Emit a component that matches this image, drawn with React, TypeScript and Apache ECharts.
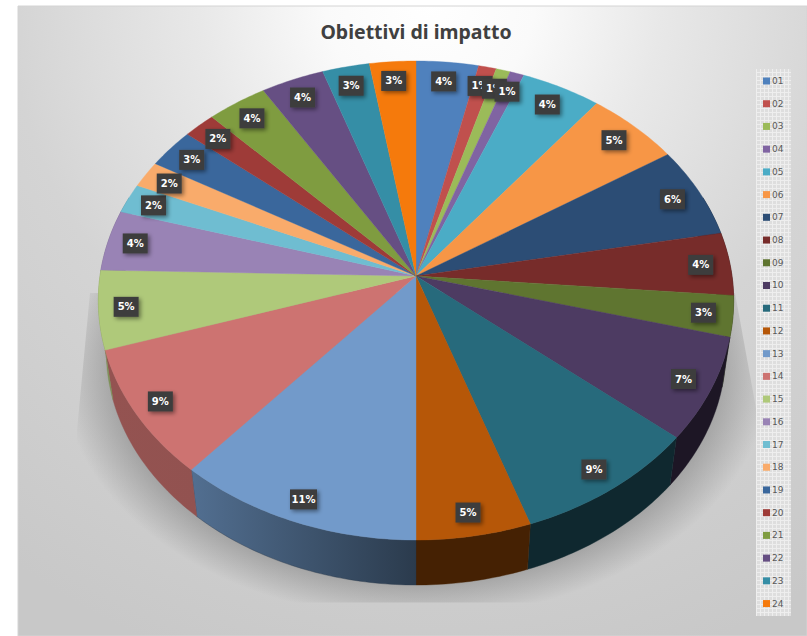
import React, { useEffect, useRef } from "react";
import * as echarts from "echarts";

const titleText = "Obiettivi di impatto";
const categories = ["01","02","03","04","05","06","07","08","09","10","11","12","13","14","15","16","17","18","19","20","21","22","23","24"];
const shares = [3.5,1,0.8,0.8,4.5,5.3,6.15,4.25,2.75,6.95,8.7,5.3,11.4,8.7,5.3,4.1,2,1.8,2.7,1.8,3.4,3.55,2.65,2.6];
const percentLabels = ["4%","1%","1%","1%","4%","5%","6%","4%","3%","7%","9%","5%","11%","9%","5%","4%","2%","2%","3%","2%","4%","4%","3%","3%"];
const colors = ["#4f81bd","#c0504d","#9bbb59","#8064a2","#4bacc6","#f79646","#2c4d75","#772c2a","#5f7530","#4d3b62","#276a7c","#b65708","#729aca","#cd7371","#afc97a","#9983b5","#6fbdd1","#f9ab6b","#3a679c","#9e3b38","#7f9c40","#664f83","#358ea6","#f57a0c"];

const CX = 416, CY = 276, RX = 316, RY = 237, P = 0.1023;
const WALL_SCALE = 0.975, WALL_CY = 327.6;
const total = shares.reduce((a, b) => a + b, 0);
const starts: number[] = [];
shares.reduce((acc, v, i) => { starts[i] = acc; return acc + v; }, 0);
const toAngle = (v: number) => (v / total) * Math.PI * 2;

function topPoint(t: number, f = 1): [number, number] {
  const u = Math.sin(t), v = Math.cos(t), w = 1 + P * v;
  return [CX + (f * RX * u) / w, CY - (f * RY * v) / w];
}
function bottomPoint(t: number): [number, number] {
  const u = Math.sin(t), v = Math.cos(t), w = 1 + P * v;
  return [CX + (WALL_SCALE * RX * u) / w, WALL_CY - (WALL_SCALE * RY * v) / w];
}
function arc(a: number, b: number, fn: (t: number) => [number, number]) {
  const n = Math.max(2, Math.ceil((b - a) / 0.015));
  const pts: [number, number][] = [];
  for (let i = 0; i <= n; i++) pts.push(fn(a + ((b - a) * i) / n));
  return pts;
}
function shade(hex: string, f: number) {
  const n = parseInt(hex.slice(1), 16);
  const c = [(n >> 16) & 255, (n >> 8) & 255, n & 255].map((x) => Math.round(x * f));
  return `rgb(${c[0]},${c[1]},${c[2]})`;
}
const wallFactor = (x: number) => (x >= 416 ? 0.38 : x <= 190 ? 0.72 : 0.72 - (0.34 * (x - 190)) / 226);

function renderTop(i: number) {
  const a = toAngle(starts[i]);
  const b = toAngle(starts[i] + shares[i]);
  const points = [[CX, CY], ...arc(a, b, (t) => topPoint(t))];
  return { type: "polygon", shape: { points }, style: { fill: colors[i], stroke: colors[i], lineWidth: 0.4 } };
}
function renderWall(i: number) {
  const a = Math.max(toAngle(starts[i]), (70 * Math.PI) / 180);
  const b = Math.min(toAngle(starts[i] + shares[i]), (290 * Math.PI) / 180);
  if (b <= a) return null;
  const top = arc(a, b, (t) => topPoint(t));
  const bot = arc(a, b, bottomPoint).reverse();
  const points = [...top, ...bot];
  const xs = points.map((p) => p[0]);
  const x0 = Math.min(...xs), x1 = Math.max(...xs);
  const c0 = shade(colors[i], wallFactor(x0));
  const c1 = shade(colors[i], wallFactor(x1));
  return {
    type: "polygon",
    shape: { points },
    style: {
      fill: new echarts.graphic.LinearGradient(0, 0, 1, 0, [{ offset: 0, color: c0 }, { offset: 1, color: c1 }]),
      stroke: c1,
      lineWidth: 0.4,
    },
  };
}
function renderLabel(i: number) {
  const mid = toAngle(starts[i] + shares[i] / 2);
  const [x, y] = topPoint(mid, 0.91);
  const w = percentLabels[i].length > 2 ? 27 : 25;
  return {
    type: "group",
    x: x - 1,
    y,
    children: [
      {
        type: "rect",
        shape: { x: -w / 2, y: -10, width: w, height: 20 },
        style: { fill: "#3d3d3d", shadowBlur: 4, shadowOffsetX: 2, shadowOffsetY: 2, shadowColor: "rgba(0,0,0,0.45)" },
      },
      {
        type: "text",
        style: {
          x: 0,
          y: 0,
          text: percentLabels[i],
          fill: "#ffffff",
          font: 'bold 10px "DejaVu Sans"',
          align: "center",
          verticalAlign: "middle",
        },
      },
    ],
  };
}

function gridPattern() {
  const c = document.createElement("canvas");
  c.width = 4;
  c.height = 4;
  const g = c.getContext("2d")!;
  g.fillStyle = "#dedede";
  g.fillRect(0, 0, 4, 4);
  g.fillStyle = "#eeeeee";
  g.fillRect(0, 0, 4, 1);
  g.fillRect(0, 0, 1, 4);
  return c;
}

export default function App() {
  const ref = useRef<HTMLDivElement>(null);
  useEffect(() => {
    const chart = echarts.init(ref.current!, undefined, { renderer: "svg", width: 807, height: 636 });
    const series: any[] = [
      {
        type: "custom",
        name: "walls",
        coordinateSystem: "none",
        z: 1,
        silent: true,
        data: shares.map((v, i) => [i, v]),
        renderItem: (_p: any, api: any) => renderWall(api.value(0)),
      },
      ...categories.map((name, i) => ({
        type: "custom",
        name,
        coordinateSystem: "none",
        z: 2,
        silent: true,
        itemStyle: { color: colors[i] },
        data: [[i, shares[i]]],
        renderItem: (_p: any, api: any) => renderTop(api.value(0)),
      })),
      {
        type: "custom",
        name: "labels",
        coordinateSystem: "none",
        z: 3,
        silent: true,
        data: shares.map((v, i) => [i, v]),
        renderItem: (_p: any, api: any) => renderLabel(api.value(0)),
      },
    ];
    chart.setOption({
      animation: false,
      backgroundColor: "#ffffff",
      title: {
        text: titleText,
        left: 411,
        top: 16,
        textAlign: "center",
        textStyle: { fontFamily: "Noto Sans", fontWeight: "bold", fontSize: 19.5, color: "#404040" },
      },
      legend: {
        data: categories,
        orient: "vertical",
        left: 763,
        top: 75,
        padding: 0,
        itemWidth: 7,
        itemHeight: 7,
        itemGap: 10.72,
        icon: "rect",
        textStyle: { fontFamily: "DejaVu Sans", fontSize: 9, color: "#595959", lineHeight: 12, padding: [0, 0, 0, -3] },
      },
      graphic: [
        {
          type: "rect",
          z: -10,
          shape: { x: 18, y: 6, width: 789, height: 630 },
          style: {
            fill: new echarts.graphic.RadialGradient(430, 0, 700, [
              { offset: 0, color: "#ffffff" },
              { offset: 0.15, color: "#fafafa" },
              { offset: 0.33, color: "#e8e8e8" },
              { offset: 0.6, color: "#d4d4d4" },
              { offset: 1, color: "#c8c8c8" },
            ], true),
            stroke: "#d4d4d4",
            lineWidth: 1,
          },
        },
        {
          type: "polygon",
          z: -9,
          x: 416,
          y: 370,
          scaleY: 0.7,
          shape: {
            points: [[-326, -110], [-339, 86], [-339, 332], [344, 332], [344, 86], [319, -110]],
          },
          style: {
            fill: new echarts.graphic.RadialGradient(0, 0, 355, [
              { offset: 0, color: "rgba(120,120,120,0.6)" },
              { offset: 0.82, color: "rgba(120,120,120,0.6)" },
              { offset: 1, color: "rgba(120,120,120,0)" },
            ], true),
          },
        },
        {
          type: "rect",
          z: -8,
          shape: { x: 756, y: 69, width: 35, height: 547 },
          style: { fill: { image: gridPattern(), repeat: "repeat" } as any },
        },
      ],
      series,
    });
    return () => chart.dispose();
  }, []);
  return <div ref={ref} style={{ position: "fixed", left: 0, top: 0, width: 807, height: 636 }} />;
}
